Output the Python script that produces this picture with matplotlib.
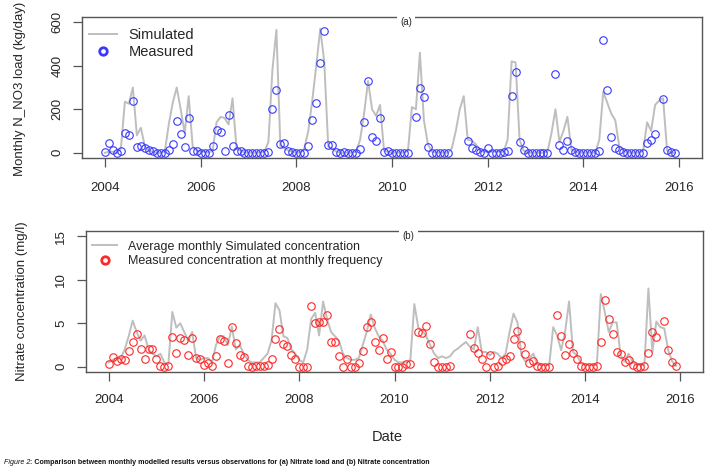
import numpy as np
import matplotlib
matplotlib.use("Agg")
import matplotlib.pyplot as plt

nan = np.nan

# monthly time axis, Jan 2004 .. Dec 2015 (decimal years)
months = 2004 + np.arange(144) / 12.0

# (a) nitrate load, kg/day
load_sim = [0, 5, 5, 0, 20, 235, 225, 300, 80, 115, 30, 10,
            5, 0, 0, 5, 130, 230, 300, 200, 90, 260, 30, 10,
            5, 5, 0, 10, 140, 165, 160, 130, 250, 20, 10, 0,
            0, 0, 0, 0, 5, 50, 380, 565, 30, 20, 10, 5,
            0, 0, 20, 100, 240, 400, 570, 420, 30, 20, 5, 0,
            0, 0, 0, 5, 60, 180, 330, 200, 170, 220, 10, 5,
            0, 0, 0, 0, 10, 210, 200, 460, 150, 40, 5, 0,
            0, 0, 0, 20, 100, 200, 260, 60, 55, 40, 10, 5,
            5, 5, 5, 5, 5, 60, 420, 415, 60, 10, 0, 0,
            0, 0, 0, 5, 90, 200, 50, 100, 165, 15, 5, 0,
            0, 0, 0, 0, 60, 280, 230, 180, 150, 30, 15, 0,
            0, 0, 0, 10, 140, 100, 220, 240, 250, 10, 0, 0]

load_obs = [5, 45, 12, 0, 8, 92, 83, 238, 26, 30, 22, 15,
            6, 0, 0, 0, 12, 42, 145, 84, 26, 161, 8, 8,
            0, 0, 0, 33, 106, 97, 8, 173, 30, 8, 10, 0,
            0, 0, 0, 0, 0, 5, 200, 287, 41, 45, 10, 5,
            0, 0, 0, 30, 149, 229, 413, 558, 38, 38, 3, 0,
            5, 0, 0, 0, 18, 142, 332, 74, 56, 158, 5, 10,
            0, 0, 0, 0, 0, nan, 166, 299, 255, 27, 0, 0,
            0, 0, 0, nan, nan, nan, nan, 56, 23, 12, 5, 0,
            23, 0, 0, 0, 5, 10, 259, 372, 50, 14, 0, 0,
            0, 0, 0, 0, nan, 362, 35, 12, 53, 14, 5, 0,
            0, 0, 0, 0, 9, 519, 287, 74, 23, 12, 5, 0,
            0, 0, 0, 0, 45, 60, 86, nan, 247, 12, 5, 0]

# (b) nitrate concentration, mg/l
conc_sim = [0.5, 0.8, 1.0, 1.0, 2.0, 3.5, 5.3, 4.0, 3.0, 3.6, 2.0, 1.5,
            1.2, 1.5, 0.5, 0.3, 6.3, 4.5, 5.0, 4.0, 3.0, 4.0, 1.0, 0.8,
            1.0, 1.0, 0.5, 2.5, 3.5, 3.5, 2.5, 4.6, 2.0, 2.5, 1.5, 0.8,
            0.5, 0.5, 0.5, 1.0, 1.5, 3.0, 7.3, 6.5, 3.5, 3.3, 2.0, 1.5,
            0.8, 0.5, 2.0, 5.5, 6.2, 3.6, 7.5, 5.5, 4.0, 3.5, 3.0, 1.5,
            1.0, 0.8, 0.8, 1.0, 2.5, 4.0, 6.0, 4.5, 3.5, 3.0, 2.0, 1.5,
            0.8, 0.5, 0.5, 0.5, 0.8, 7.2, 4.5, 4.2, 3.5, 2.5, 1.5, 1.0,
            1.2, 1.0, 1.2, 1.8, 2.1, 2.5, 2.85, 2.3, 2.0, 4.55, 1.7, 1.7,
            1.3, 1.7, 1.5, 1.0, 1.5, 4.0, 6.1, 5.1, 1.3, 0.6, 1.0, 1.5,
            0.3, 0.2, 0.2, 0.2, 4.55, 3.6, 1.9, 4.0, 7.5, 1.7, 1.3, 0.4,
            0.2, 0.2, 0.2, 0.2, 8.35, 6.3, 4.0, 5.1, 5.1, 1.3, 0.6, 1.5,
            0.6, 0.2, 0.2, 0.2, 9.0, 1.7, 5.2, 4.55, 4.4, 1.9, 0.6, 0.1]

conc_obs = [0.3, 1.1, 0.7, 0.9, 0.8, 1.8, 2.8, 3.8, 2.1, 0.95, 2.0, 2.1,
            0.85, 0.1, 0, 0.1, 3.4, 1.55, 3.25, 3.1, 1.3, 3.3, 1.05, 0.85,
            0.2, 0.4, 0.1, 1.2, 3.2, 3.0, 0.4, 4.55, 2.7, 1.3, 1.1, 0.1,
            0, 0.1, 0.1, 0.1, 0.25, 0.95, 3.2, 4.35, 2.6, 2.35, 1.3, 0.9,
            0, 0, 0, 6.95, 5.0, 5.2, 5.2, 5.9, 2.85, 2.85, 1.2, 0,
            0.95, 0, 0, 0.4, 1.8, 4.55, 5.1, 2.8, 1.9, 3.35, 0.85, 1.7,
            0, 0, 0, 0.35, 0.35, nan, 4.05, 3.9, 4.65, 2.65, 0.55, 0,
            0, 0, 0.1, nan, nan, nan, nan, 3.8, 2.2, 1.6, 0.95, 0,
            1.3, 0, 0.1, 0.7, 0.95, 1.2, 3.2, 4.15, 2.45, 1.5, 0.45, 0.7,
            0.1, 0, 0, 0, nan, 6.0, 3.55, 1.35, 2.6, 1.6, 0.85, 0.1,
            0, 0, 0, 0.1, 2.8, 7.65, 5.45, 3.75, 1.75, 1.5, 0.5, 0.75,
            0.2, 0, 0, 0.1, 1.6, 3.95, 3.4, nan, 5.25, 1.95, 0.55, 0.1]

year_ticks = [2004, 2006, 2008, 2010, 2012, 2014, 2016]

plt.rcParams['font.family'] = ['Liberation Sans', 'DejaVu Sans']
ink = '#262626'
grey = '#bebebe'

W, H = 710, 473
fig = plt.figure(figsize=(W / 100, H / 100), dpi=100)


def frac(l, t, r, b):
    return [l / W, 1 - b / H, (r - l) / W, (b - t) / H]


def style_axes(ax, ylim, yticks, xpad):
    ax.set_xlim(2003.52, 2016.48)
    ax.set_ylim(ylim)
    ax.set_xticks(year_ticks)
    ax.set_yticks(yticks)
    for s in ax.spines.values():
        s.set_color('#555555')
        s.set_linewidth(1.0)
    ax.tick_params(axis='both', direction='out', length=6.5, width=0.9,
                   color='#555555', labelsize=9.5, labelcolor=ink)
    ax.tick_params(axis='x', pad=xpad)
    ax.tick_params(axis='y', pad=7)
    for lab in ax.get_yticklabels():
        lab.set_rotation(90)
        lab.set_va('center')


# ---- (a) load
ax1 = fig.add_axes(frac(82, 17, 702, 158))
ax1.plot(months, load_sim, color=grey, lw=1.4, label='Simulated')
ax1.plot(months, load_obs, 'o', mfc='none', mec='#3838ff', ms=5.4, mew=0.8,
         label='Measured')
style_axes(ax1, (-24, 624), [0, 200, 400, 600], 10.5)
leg = ax1.legend(loc='upper left', bbox_to_anchor=(0.0, 0.975), frameon=False,
                 fontsize=10.5, handlelength=1.9, handletextpad=0.8,
                 labelspacing=0.25, borderpad=0.2, borderaxespad=0.3)
for t in leg.get_texts():
    t.set_color(ink)
leg.legend_handles[1].set_markeredgewidth(2.0)
ax1.text(0.5226, 0.965, '(a)', transform=ax1.transAxes, ha='center',
         va='center', fontsize=7, color=ink,
         bbox=dict(facecolor='white', edgecolor='none', pad=2.5))
fig.text(20 / W, 1 - 89 / H, 'Monthly N_NO3 load (kg/day)', rotation=90,
         ha='center', va='center', fontsize=9.5, color=ink)

# ---- (b) concentration
ax2 = fig.add_axes(frac(86, 231, 703, 372))
ax2.plot(months, conc_sim, color=grey, lw=1.4,
         label='Average monthly Simulated concentration')
ax2.plot(months, conc_obs, 'o', mfc='none', mec='#ff2828', ms=5.4, mew=0.8,
         label='Measured concentration at monthly frequency')
style_axes(ax2, (-0.6, 15.6), [0, 5, 10, 15], 9)
leg2 = ax2.legend(loc='upper left', bbox_to_anchor=(0.0, 0.975), frameon=False,
                  fontsize=9, handlelength=2.0, handletextpad=0.9,
                  labelspacing=0.2, borderpad=0.2, borderaxespad=0.3)
for t in leg2.get_texts():
    t.set_color(ink)
leg2.legend_handles[1].set_markeredgewidth(2.0)
ax2.text(0.522, 0.965, '(b)', transform=ax2.transAxes, ha='center',
         va='center', fontsize=7, color=ink,
         bbox=dict(facecolor='white', edgecolor='none', pad=2.5))
fig.text(22 / W, 1 - 301 / H, 'Nitrate concentration (mg/l)', rotation=90,
         ha='center', va='center', fontsize=9.5, color=ink)

fig.text(387 / W, 1 - 437 / H, 'Date', ha='center', va='center',
         fontsize=10.5, color=ink)

# caption
cap1 = fig.text(4 / W, 1 - 462 / H, 'Figure 2', fontsize=5.1, style='italic',
                ha='left', va='center', color='#111111')
ax2.annotate(': Comparison between monthly modelled results versus observations '
             'for (a) Nitrate load and (b) Nitrate concentration',
             xy=(1, 0.5), xycoords=cap1, ha='left', va='center', fontsize=5.1,
             fontweight='bold', color='#111111', annotation_clip=False)

fig.savefig('out.png', dpi=100)
